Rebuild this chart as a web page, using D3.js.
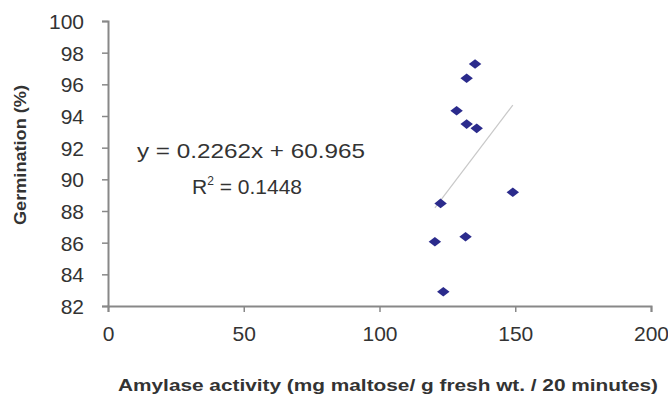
<!DOCTYPE html>
<html>
<head>
<meta charset="utf-8">
<script src="https://cdn.jsdelivr.net/npm/d3@7"></script>
<style>
  body { margin: 0; background: #fff; }
  text { font-family: "Liberation Sans", Arial, sans-serif; fill: #333; }
</style>
</head>
<body>
<svg id="chart" width="668" height="396"></svg>
<script>
// amylase activity vs germination
var amylase = [135.2, 132.1, 128.4, 132.1, 135.8, 149.1, 122.5, 120.4, 131.7, 123.5];
var germination = [97.28, 96.38, 94.33, 93.49, 93.22, 89.18, 88.48, 86.06, 86.37, 82.9];
var xTicks = [0, 50, 100, 150, 200];
var yTicks = [82, 84, 86, 88, 90, 92, 94, 96, 98, 100];
var slope = 0.2262, intercept = 60.965, rSquared = 0.1448;

var svg = d3.select("#chart"),
    margin = {top: 21, right: 17, bottom: 90, left: 108},
    width = +svg.attr("width") - margin.left - margin.right,
    height = +svg.attr("height") - margin.top - margin.bottom,
    g = svg.append("g").attr("transform", "translate(" + margin.left + "," + margin.top + ")");

var x = d3.scaleLinear().domain([0, 200]).range([0, width]);
var y = d3.scaleLinear().domain([82, 100]).range([height, 0]);

var xAxis = g.append("g")
    .attr("transform", "translate(0," + height + ")")
    .call(d3.axisBottom(x).tickValues(xTicks).tickSize(6).tickPadding(14));
var yAxis = g.append("g")
    .call(d3.axisLeft(y).tickValues(yTicks).tickSize(6).tickPadding(18));

[xAxis, yAxis].forEach(function(ax) {
  ax.selectAll("path").attr("stroke", "#888").attr("stroke-width", 2);
  ax.selectAll("line").attr("stroke", "#888").attr("stroke-width", 1.5);
  ax.selectAll("text").style("font-size", "21px").attr("fill", "#333");
});
yAxis.selectAll("text").attr("dy", "0.36em");

// trend line over the data range
var xMin = d3.min(amylase), xMax = d3.max(amylase);
g.append("line")
    .attr("x1", x(xMin)).attr("y1", y(slope * xMin + intercept))
    .attr("x2", x(xMax)).attr("y2", y(slope * xMax + intercept))
    .attr("stroke", "#c8c8c8")
    .attr("stroke-width", 1.2);

var pts = amylase.map(function(d, i) { return {x: d, y: germination[i]}; });
g.selectAll(".pt")
    .data(pts)
  .enter().append("path")
    .attr("class", "pt")
    .attr("d", d3.symbol().type(d3.symbolSquare).size(64))
    .attr("transform", function(d) {
      return "translate(" + x(d.x) + "," + y(d.y) + ") scale(1.1,0.85) rotate(45)";
    })
    .attr("fill", "#2b2b8c");

// equation labels
svg.append("text")
    .attr("x", 137).attr("y", 158)
    .attr("textLength", 228).attr("lengthAdjust", "spacingAndGlyphs")
    .style("font-size", "21px")
    .text("y = " + slope + "x + " + intercept);

var r2 = svg.append("text")
    .attr("x", 192).attr("y", 194)
    .style("font-size", "21px");
r2.append("tspan").text("R");
r2.append("tspan").attr("dy", -9).style("font-size", "12px").text("2");
r2.append("tspan").attr("dy", 9).text(" = " + rSquared);

// axis titles
svg.append("text")
    .attr("x", 388).attr("y", 391)
    .attr("text-anchor", "middle")
    .attr("textLength", 540).attr("lengthAdjust", "spacingAndGlyphs")
    .style("font-size", "16px").style("font-weight", "bold")
    .text("Amylase activity (mg maltose/ g fresh wt. / 20 minutes)");

svg.append("text")
    .attr("transform", "translate(26,155) rotate(-90)")
    .attr("text-anchor", "middle")
    .attr("textLength", 140).attr("lengthAdjust", "spacingAndGlyphs")
    .style("font-size", "17px").style("font-weight", "bold")
    .text("Germination (%)");
</script>
</body>
</html>
